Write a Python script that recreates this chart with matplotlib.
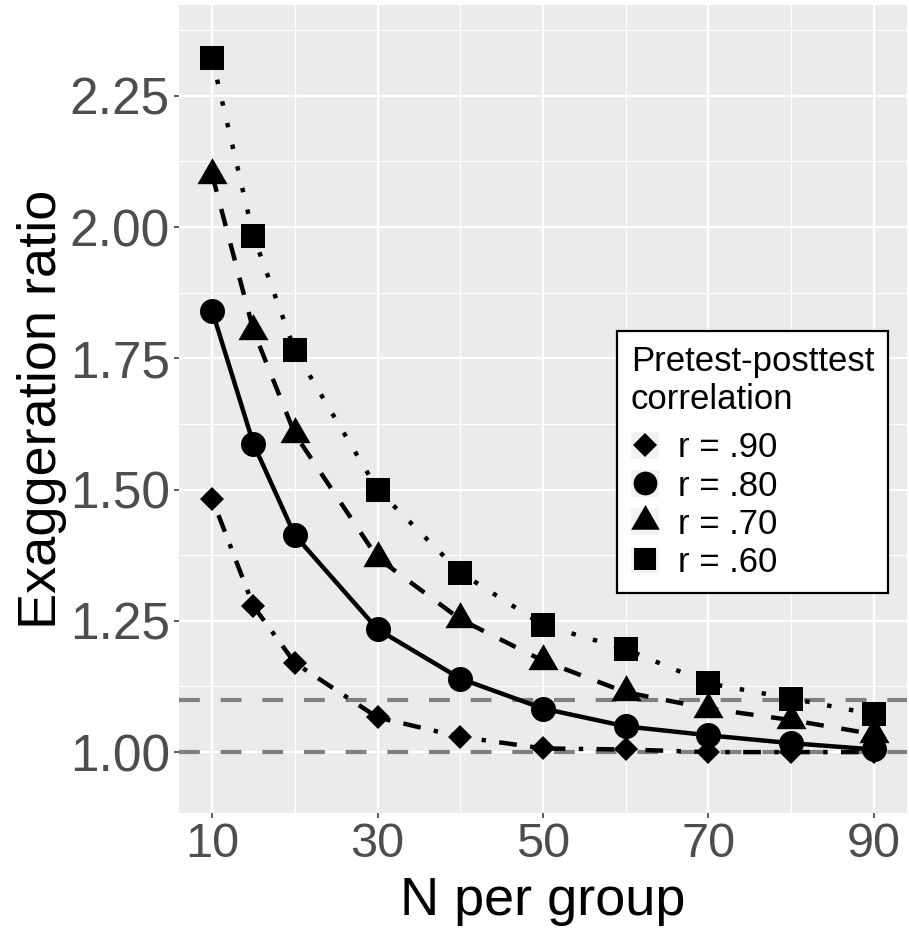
import matplotlib
matplotlib.use("Agg")
import matplotlib.pyplot as plt
from matplotlib.lines import Line2D
from matplotlib.patches import Patch
from matplotlib.legend_handler import HandlerTuple

plt.rcParams['font.family'] = ['Liberation Sans', 'DejaVu Sans']

# data
n_group = [10, 15, 20, 30, 40, 50, 60, 70, 80, 90]
r90 = [1.483, 1.278, 1.170, 1.066, 1.029, 1.007, 1.005, 1.000, 1.000, 1.000]
r80 = [1.841, 1.587, 1.413, 1.234, 1.140, 1.083, 1.049, 1.032, 1.017, 1.005]
r70 = [2.100, 1.803, 1.606, 1.370, 1.253, 1.174, 1.114, 1.083, 1.061, 1.034]
r60 = [2.322, 1.983, 1.765, 1.500, 1.342, 1.242, 1.196, 1.131, 1.102, 1.072]
labels = ["r = .90", "r = .80", "r = .70", "r = .60"]
ref_lines = [1.0, 1.1]
xticks = [10, 30, 50, 70, 90]
yticks = [1.00, 1.25, 1.50, 1.75, 2.00, 2.25]

tri = [(0, 1), (-0.866, -0.5), (0.866, -0.5)]
series = [r90, r80, r70, r60]
markers = ['D', 'o', tri, 's']
msizes = [12.5, 18, 25, 17]
dashes = [(1, 3, 4, 3), None, (4, 4), (1, 4)]

fig = plt.figure(figsize=(9.09, 9.33), dpi=100)
ax = fig.add_axes([179/909, (933-813)/933, 728/909, 808/933])
ax.set_facecolor('#ebebeb')
for s in ax.spines.values():
    s.set_visible(False)

ax.set_xlim(6, 94)
ax.set_ylim(0.884, 2.423)
ax.set_xticks(xticks)
ax.set_yticks(yticks)
ax.set_xticks([20, 40, 60, 80], minor=True)
ax.set_yticks([1.125, 1.375, 1.625, 1.875, 2.125, 2.375], minor=True)
ax.set_yticklabels(["%.2f" % v for v in yticks])
ax.grid(which='major', color='white', lw=1.6)
ax.grid(which='minor', color='white', lw=0.8)
ax.set_axisbelow(True)
ax.tick_params(which='major', length=3.6, width=1.1, color='#333333',
               labelcolor='#4d4d4d', pad=3)
ax.tick_params(which='minor', length=0)
ax.tick_params(axis='x', labelsize=35)
ax.tick_params(axis='y', labelsize=37)

for y in ref_lines:
    ax.axhline(y, color='#808080', lw=3, ls=(0, (5, 5)), zorder=1)

for vals, d in zip(series, dashes):
    if d is None:
        ax.plot(n_group, vals, color='black', lw=3.2, zorder=2)
    else:
        ax.plot(n_group, vals, color='black', lw=3.2, ls=(0, d), zorder=2)

for vals, m, ms in zip(series, markers, msizes):
    ax.plot(n_group, vals, ls='none', marker=m, ms=ms, color='black',
            mew=0, zorder=3)

ax.set_xlabel("N per group", fontsize=39, labelpad=6)
ax.set_ylabel("Exaggeration ratio", fontsize=39, labelpad=2)

handles = []
for m, ms in zip(markers, msizes):
    handles.append((Patch(fc='#f2f2f2', ec='none'),
                    Line2D([], [], ls='none', marker=m, ms=ms * 0.95,
                           color='black', mew=0)))
leg = ax.legend(handles, labels, handler_map={tuple: HandlerTuple(ndivide=1)},
                title="Pretest-posttest\ncorrelation", loc='upper left',
                bbox_to_anchor=(0.6016, 0.5965), borderaxespad=0,
                fontsize=25, title_fontsize=25, alignment='left',
                frameon=True, fancybox=False, framealpha=1, edgecolor='black',
                labelspacing=0.15, handlelength=0.8, handleheight=0.8,
                handletextpad=0.55, borderpad=0.4)
leg.get_frame().set_linewidth(1.6)
leg._legend_box.sep = 11

fig.savefig("out.png", dpi=100)
